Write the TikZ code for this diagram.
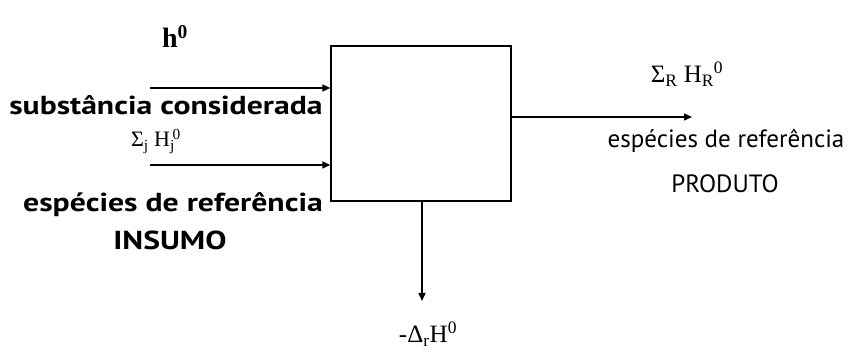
\documentclass[tikz,border=0pt]{standalone}
\usepackage{fontspec}
\setsansfont{PT Sans}
\newfontfamily\widefont{PT Sans}[FakeStretch=1.22]
\newfontfamily\symfont{Liberation Serif}
\usepackage{tikz}
\usetikzlibrary{arrows.meta,positioning}
\tikzset{
  proc/.style={draw, line width=1.4pt, minimum width=180pt, minimum height=155pt, inner sep=0pt},
  flow/.style={-{Triangle[length=8pt,width=7pt]}, line width=1.4pt},
  word/.style={font=\fontsize{26}{28}\widefont\bfseries, inner sep=0pt, anchor=base},
  wordr/.style={font=\fontsize{25}{28}\sffamily, inner sep=0pt, anchor=base},
  sym/.style={font=\fontsize{22}{24}\symfont, inner sep=0pt, anchor=base},
}
\begin{document}
\begin{tikzpicture}[x=1pt,y=1pt]
  \useasboundingbox (0,0) rectangle (862,352);
  \node[proc] (box) at (421,228.5) {};
  % entradas
  \coordinate (subst) at (150,264);
  \coordinate (insumo) at (150,187);
  \draw[flow] (subst) -- (subst -| box.west);
  \draw[flow] (insumo) -- (insumo -| box.west);
  % saidas
  \coordinate (prod) at (692,235);
  \draw[flow] (prod -| box.east) -- (prod);
  \coordinate (calor) at (422,51);
  \draw[flow] (calor |- box.south) -- (calor);
  % textos
  \node[sym, font=\fontsize{28}{30}\symfont\bfseries] (h0) at (175,304) {h\textsuperscript{0}};
  \node[word] (lsubst) at (166,237) {substância considerada};
  \node[sym] (sj) at (156,205) {Σ\textsubscript{j} H\rlap{\textsubscript{j}}\textsuperscript{\,0}};
  \node[word] (lesp) at (173,140) {espécies de referência};
  \node[word] (lins) at (170,102) {INSUMO};
  \node[sym, font=\fontsize{25}{27}\symfont] (sr) at (687,269) {Σ\textsubscript{R} H\textsubscript{R}\textsuperscript{0}};
  \node[wordr] (resp) at (726,204) {espécies de referência};
  \node[wordr] (lprod) at (725,159) {PRODUTO};
  \node[sym, font=\fontsize{25}{27}\symfont] (dh) at (428,9) {-Δ\textsubscript{r}H\textsuperscript{0}};
\end{tikzpicture}
\end{document}
